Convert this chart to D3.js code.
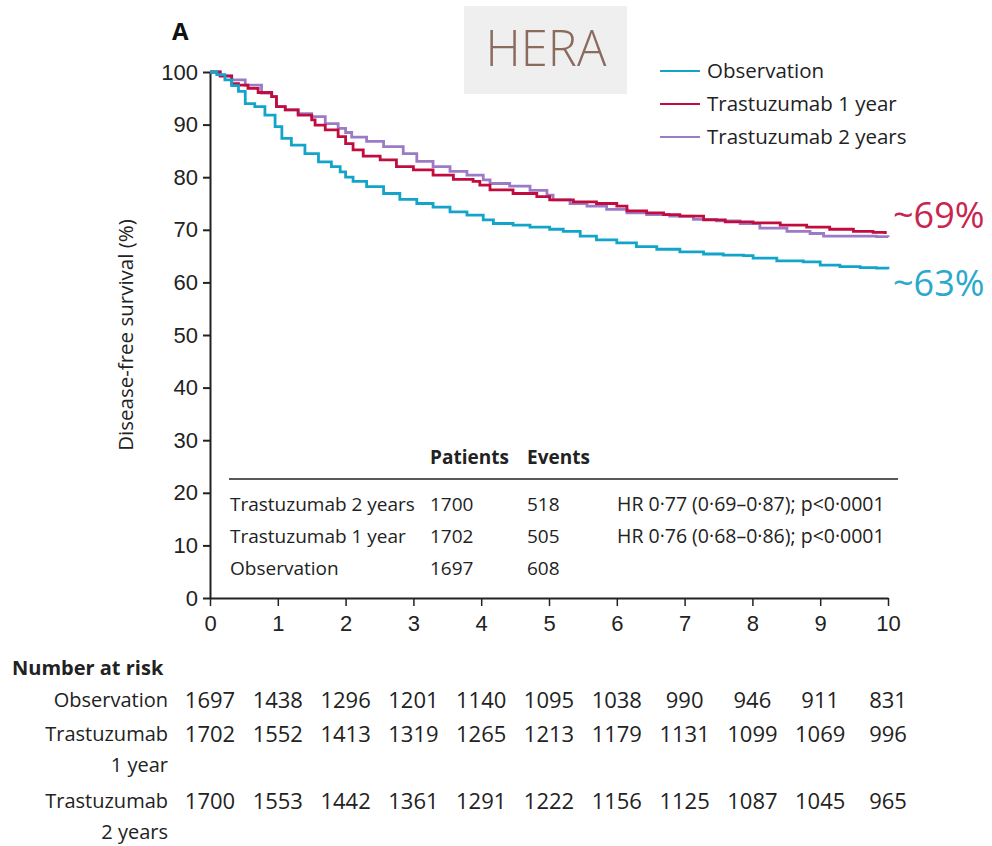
<!DOCTYPE html>
<html>
<head>
<meta charset="utf-8">
<script src="https://cdn.jsdelivr.net/npm/d3@7"></script>
<style>
  body { margin: 0; background: #fff; }
  svg { display: block; font-family: 'Open Sans', sans-serif; }
</style>
</head>
<body>
<svg id="chart" width="992" height="846"></svg>
<script>
// survival curves: [year, % disease-free]
const obsCurve = [[0,100],[0.1,99.5],[0.22,98.5],[0.32,97.4],[0.42,96.3],[0.52,94.0],[0.66,93.4],[0.81,91.8],[0.96,89.6],[1.06,87.4],[1.2,86.1],[1.4,84.5],[1.6,82.9],[1.79,82.0],[1.92,81.0],[2.0,80.0],[2.11,79.2],[2.31,78.2],[2.56,76.9],[2.8,75.8],[3.05,75.0],[3.29,74.3],[3.54,73.4],[3.79,72.8],[4.03,71.9],[4.18,71.2],[4.47,70.9],[4.72,70.5],[5.01,70.1],[5.21,69.7],[5.46,68.8],[5.7,68.1],[6.0,67.5],[6.29,66.8],[6.59,66.3],[6.93,65.8],[7.28,65.4],[7.57,65.2],[7.87,65.1],[8.01,64.6],[8.36,64.1],[8.75,63.9],[9.0,63.3],[9.29,63.0],[9.59,62.8],[9.83,62.7],[10.0,62.5]]
const t1Curve = [[0,100],[0.15,99.2],[0.32,97.8],[0.42,97.5],[0.56,96.9],[0.71,96.1],[0.91,95.3],[0.98,93.4],[1.11,92.8],[1.3,91.8],[1.5,90.9],[1.55,89.9],[1.7,89.0],[1.89,87.7],[2.0,86.4],[2.11,85.2],[2.26,84.0],[2.51,83.3],[2.75,82.0],[3.0,81.4],[3.29,80.4],[3.59,79.6],[3.88,79.2],[3.98,78.5],[4.13,77.6],[4.47,76.9],[4.82,76.3],[5.01,75.7],[5.36,75.3],[5.7,75.0],[6.0,74.5],[6.15,73.6],[6.44,73.2],[6.69,72.9],[6.93,72.6],[7.28,71.9],[7.6,71.5],[8.01,71.3],[8.41,70.9],[8.8,70.5],[9.14,70.1],[9.49,69.7],[9.78,69.5],[9.96,69.2]]
const t2Curve = [[0,100],[0.15,99.3],[0.32,98.5],[0.52,97.5],[0.76,96.0],[0.91,95.3],[0.98,93.4],[1.11,92.8],[1.3,92.1],[1.5,91.5],[1.7,90.2],[1.89,89.3],[2.0,88.5],[2.09,87.6],[2.31,86.8],[2.56,85.8],[2.85,84.5],[3.05,83.0],[3.29,82.0],[3.54,81.1],[3.79,80.4],[4.03,79.5],[4.13,78.8],[4.42,78.3],[4.72,77.5],[4.97,76.6],[5.06,75.7],[5.31,75.0],[5.56,74.5],[5.85,73.9],[6.15,73.2],[6.44,72.9],[6.78,72.6],[7.13,72.0],[7.47,71.7],[7.82,71.2],[8.11,70.3],[8.51,69.7],[8.85,69.3],[9.05,68.8],[9.49,68.8],[9.83,68.7],[10.0,68.6]]

const groups = ["Observation", "Trastuzumab 1 year", "Trastuzumab 2 years"]
const colors = ["#12a5c9", "#c20c3f", "#9c7bc6"]

const xTicks = [0,1,2,3,4,5,6,7,8,9,10]
const yTicks = [0,10,20,30,40,50,60,70,80,90,100]

// inner summary table
const tableHeads = ["Patients", "Events"]
const tableGroups = ["Trastuzumab 2 years", "Trastuzumab 1 year", "Observation"]
const tablePatients = [1700, 1702, 1697]
const tableEvents = [518, 505, 608]
const tableHR = ["HR 0·77 (0·69–0·87); p<0·0001", "HR 0·76 (0·68–0·86); p<0·0001", ""]

// number at risk
const riskObs = [1697,1438,1296,1201,1140,1095,1038,990,946,911,831]
const riskT1 = [1702,1552,1413,1319,1265,1213,1179,1131,1099,1069,996]
const riskT2 = [1700,1553,1442,1361,1291,1222,1156,1125,1087,1045,965]

const endLabels = ["~69%", "~63%"]

const svg = d3.select("#chart")
svg.append("rect").attr("width", 992).attr("height", 846).attr("fill", "#fff")

const x = d3.scaleLinear().domain([0, 10]).range([210, 888])
const y = d3.scaleLinear().domain([0, 100]).range([598, 72])

// axes
const yAxis = svg.append("g").attr("transform", "translate(210,0)")
  .call(d3.axisLeft(y).tickValues(yTicks).tickSize(7).tickSizeOuter(0).tickPadding(5))
yAxis.select(".domain").attr("stroke", "#222").attr("stroke-width", 2)
yAxis.selectAll(".tick line").attr("stroke", "#222").attr("stroke-width", 2)
yAxis.selectAll("text").attr("font-size", 22).attr("fill", "#222")

const xAxis = svg.append("g").attr("transform", "translate(0,598)")
  .call(d3.axisBottom(x).tickValues(xTicks).tickSize(8).tickSizeOuter(0).tickPadding(9))
xAxis.select(".domain").attr("stroke", "#222").attr("stroke-width", 2)
xAxis.selectAll(".tick line").attr("stroke", "#222").attr("stroke-width", 1.5)
xAxis.selectAll("text").attr("font-size", 22).attr("fill", "#222")

svg.append("text")
  .attr("transform", `translate(133,${(72 + 598) / 2}) rotate(-90)`)
  .attr("text-anchor", "middle")
  .attr("font-size", 20.5).attr("fill", "#222")
  .text("Disease-free survival (%)")

// curves
const line = d3.line().x(d => x(d[0])).y(d => y(d[1])).curve(d3.curveStepAfter)
const curves = [obsCurve, t1Curve, t2Curve]
svg.append("g").selectAll("path").data([2, 1, 0]).enter()
  .append("path")
  .attr("d", i => line(curves[i]))
  .attr("fill", "none")
  .attr("stroke", i => colors[i])
  .attr("stroke-width", 2.8)

// panel letter + HERA box
svg.append("text").attr("x", 172).attr("y", 40)
  .attr("font-size", 24).attr("font-weight", 700).attr("fill", "#111").text("A")
svg.append("rect").attr("x", 464).attr("y", 6).attr("width", 163).attr("height", 88).attr("fill", "#efefef")
svg.append("text").attr("x", 546).attr("y", 66).attr("text-anchor", "middle")
  .attr("font-size", 49).attr("font-weight", 300).attr("fill", "#8a6b5e").text("HERA")

// legend
const leg = svg.append("g").selectAll("g").data(groups).enter().append("g")
  .attr("transform", (d, i) => `translate(660,${71 + i * 33})`)
leg.append("line").attr("x1", 0).attr("x2", 40)
  .attr("stroke", (d, i) => colors[i]).attr("stroke-width", 2)
leg.append("text").attr("x", 47).attr("dy", "0.35em")
  .attr("font-size", 20.5).attr("fill", "#222").text(d => d)

// end labels
svg.append("text").attr("x", 893).attr("y", 215).attr("dy", "0.35em")
  .attr("font-size", 36).attr("fill", "#c8254f").text(endLabels[0])
svg.append("text").attr("x", 893).attr("y", 283).attr("dy", "0.35em")
  .attr("font-size", 36).attr("fill", "#2aa9cc").text(endLabels[1])

// summary table
const tbl = svg.append("g").attr("font-size", 19).attr("fill", "#222")
tbl.append("text").attr("x", 430).attr("y", 457).attr("dy", "0.35em").attr("font-weight", 700).text(tableHeads[0])
tbl.append("text").attr("x", 527).attr("y", 457).attr("dy", "0.35em").attr("font-weight", 700).text(tableHeads[1])
svg.append("line").attr("x1", 229).attr("x2", 898).attr("y1", 479).attr("y2", 479)
  .attr("stroke", "#222").attr("stroke-width", 1.6)
const rowY = d3.scalePoint().domain(d3.range(3)).range([504, 568])
tableGroups.forEach((g, i) => {
  tbl.append("text").attr("x", 230).attr("y", rowY(i)).attr("dy", "0.35em").text(g)
  tbl.append("text").attr("x", 430).attr("y", rowY(i)).attr("dy", "0.35em").text(tablePatients[i])
  tbl.append("text").attr("x", 527).attr("y", rowY(i)).attr("dy", "0.35em").text(tableEvents[i])
  tbl.append("text").attr("x", 617).attr("y", rowY(i)).attr("dy", "0.35em").attr("font-size", 19.5).text(tableHR[i])
})

// number at risk
const risk = svg.append("g").attr("font-size", 20).attr("fill", "#222")
risk.append("text").attr("x", 12).attr("y", 668).attr("dy", "0.35em").attr("font-weight", 700).text("Number at risk")
const riskRows = [
  { lines: ["Observation"], vals: riskObs, y: 700 },
  { lines: ["Trastuzumab", "1 year"], vals: riskT1, y: 734 },
  { lines: ["Trastuzumab", "2 years"], vals: riskT2, y: 801 }
]
riskRows.forEach(r => {
  r.lines.forEach((t, j) => {
    risk.append("text").attr("x", 168).attr("y", r.y + j * 31).attr("dy", "0.35em")
      .attr("text-anchor", "end").text(t)
  })
  risk.selectAll(null).data(r.vals).enter().append("text")
    .attr("x", (d, i) => x(xTicks[i])).attr("y", r.y).attr("dy", "0.35em")
    .attr("text-anchor", "middle").attr("font-size", 22).text(d => d)
})
</script>
</body>
</html>
